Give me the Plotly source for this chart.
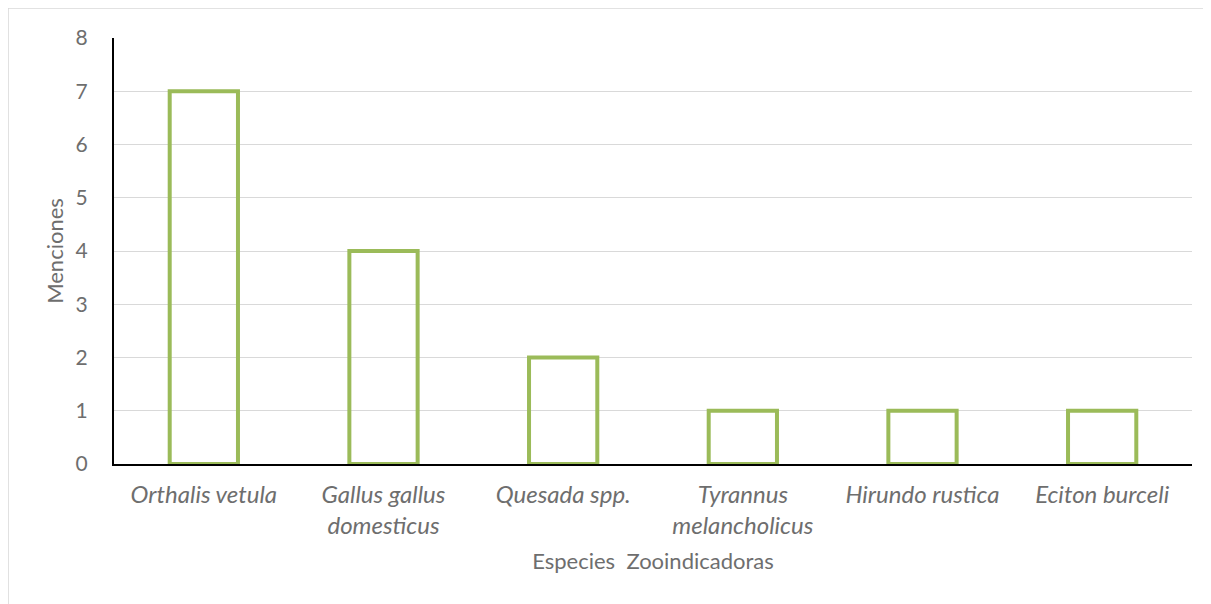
import plotly.graph_objects as go

categories = ["Orthalis vetula", "Gallus gallus<br>domesticus", "Quesada spp.",
              "Tyrannus<br>melancholicus", "Hirundo rustica", "Eciton burceli"]
menciones = [7, 4, 2, 1, 1, 1]
y_ticks = [0, 1, 2, 3, 4, 5, 6, 7, 8]

fig = go.Figure()
fig.add_trace(go.Bar(
    x=categories, y=menciones,
    marker=dict(color="rgba(255,255,255,0)", line=dict(color="#9BBB59", width=4)),
    hoverinfo="skip",
))

gray = "#6E6E6E"
fam = "Lato, Open Sans, sans-serif"
fig.update_layout(
    width=1211, height=604,
    margin=dict(l=106, r=27, t=30, b=148),
    paper_bgcolor="white", plot_bgcolor="white",
    bargap=0.62,
    showlegend=False,
    font=dict(family=fam, size=22, color=gray),
    xaxis=dict(
        tickfont=dict(family=fam, size=24, color=gray, style="italic"),
        showline=True, linecolor="black", linewidth=2,
        ticks="", showgrid=False, ticklabelstandoff=8,
        title=dict(text="Especies  Zooindicadoras", font=dict(family=fam, size=22, color=gray), standoff=16),
    ),
    yaxis=dict(
        range=[0, 8], tickvals=y_ticks, ticktext=[str(v) for v in y_ticks],
        showline=True, linecolor="black", linewidth=2,
        showgrid=True, gridcolor="#D9D9D9", gridwidth=1,
        zeroline=False, ticks="", ticklabelstandoff=20,
        tickfont=dict(family=fam, size=21, color=gray),
        title=dict(text="Menciones", font=dict(family=fam, size=22, color=gray), standoff=6),
    ),
    shapes=[dict(type="rect", xref="paper", yref="paper",
                 x0=-0.0983, x1=1.04, y0=-0.38, y1=1.0704,
                 line=dict(color="#D9D9D9", width=1.5), layer="below")],
)

fig.write_html("out.html")
